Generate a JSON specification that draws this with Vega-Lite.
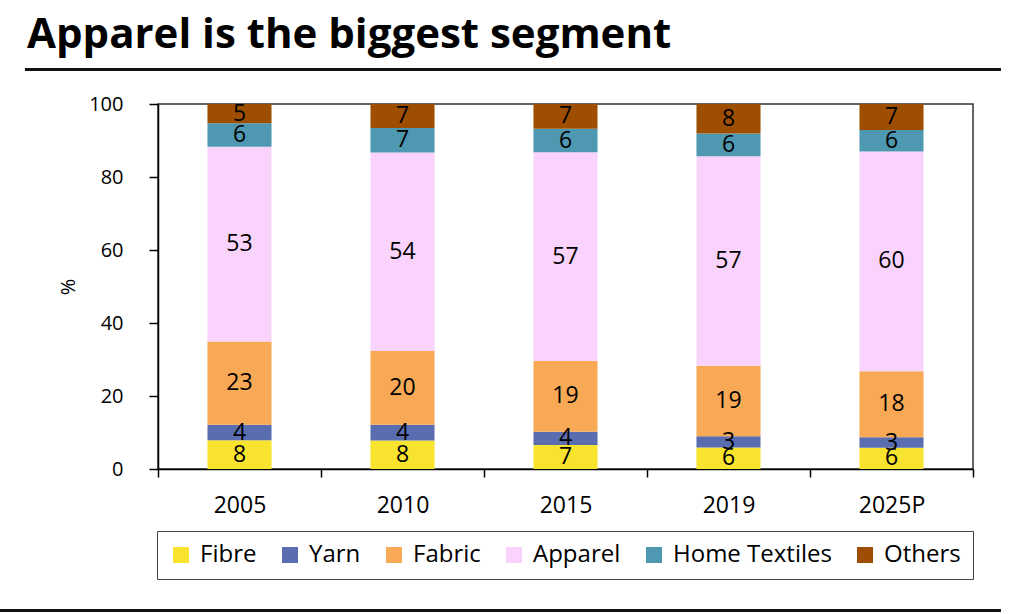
{
  "$schema": "https://vega.github.io/schema/vega-lite/v6.json",
  "padding": {"left": 0, "top": 14, "right": 0, "bottom": 0},
  "background": "white",
  "config": {"font": "Open Sans", "view": {"stroke": null}},
  "title": {"text": "Apparel is the biggest segment", "anchor": "start", "frame": "group", "fontSize": 42, "fontWeight": "bold", "color": "#000000", "dx": 27, "offset": 11, "font": "Open Sans"},
  "resolve": {"scale": {"color": "independent"}, "legend": {"color": "independent"}},
  "spacing": 28,
  "vconcat": [
    {
      "spacing": 22,
      "resolve": {"scale": {"color": "independent"}, "legend": {"color": "independent"}},
      "vconcat": [
        {
          "spacing": 0,
          "hconcat": [
            {"width": 25, "height": 3, "data": {"values": []}, "mark": "rule", "encoding": {}, "view": {"stroke": null}},
            {"width": 976, "height": 3, "data": {"values": []}, "mark": "rule", "encoding": {}, "view": {"stroke": null, "fill": "#111111"}}
          ]
        },
        {
          "spacing": 0,
          "resolve": {"scale": {"color": "independent"}, "legend": {"color": "independent"}},
          "hconcat": [
            {"width": 57, "height": 10, "data": {"values": []}, "mark": "rule", "encoding": {}, "view": {"stroke": null}},
            {
              "width": 815,
              "height": 365,
              "view": {"stroke": "#333333", "strokeWidth": 1.5},
              "data": {"values": [
                {"year": "2005", "segment": "Fibre", "value": 7.9},
                {"year": "2005", "segment": "Yarn", "value": 4.2},
                {"year": "2005", "segment": "Fabric", "value": 22.8},
                {"year": "2005", "segment": "Apparel", "value": 53.4},
                {"year": "2005", "segment": "Home Textiles", "value": 6.4},
                {"year": "2005", "segment": "Others", "value": 5.3},
                {"year": "2010", "segment": "Fibre", "value": 7.8},
                {"year": "2010", "segment": "Yarn", "value": 4.3},
                {"year": "2010", "segment": "Fabric", "value": 20.2},
                {"year": "2010", "segment": "Apparel", "value": 54.4},
                {"year": "2010", "segment": "Home Textiles", "value": 6.7},
                {"year": "2010", "segment": "Others", "value": 6.6},
                {"year": "2015", "segment": "Fibre", "value": 6.6},
                {"year": "2015", "segment": "Yarn", "value": 3.6},
                {"year": "2015", "segment": "Fabric", "value": 19.4},
                {"year": "2015", "segment": "Apparel", "value": 57.2},
                {"year": "2015", "segment": "Home Textiles", "value": 6.4},
                {"year": "2015", "segment": "Others", "value": 6.8},
                {"year": "2019", "segment": "Fibre", "value": 5.9},
                {"year": "2019", "segment": "Yarn", "value": 3.1},
                {"year": "2019", "segment": "Fabric", "value": 19.3},
                {"year": "2019", "segment": "Apparel", "value": 57.4},
                {"year": "2019", "segment": "Home Textiles", "value": 6.2},
                {"year": "2019", "segment": "Others", "value": 8.1},
                {"year": "2025P", "segment": "Fibre", "value": 5.8},
                {"year": "2025P", "segment": "Yarn", "value": 2.9},
                {"year": "2025P", "segment": "Fabric", "value": 18.1},
                {"year": "2025P", "segment": "Apparel", "value": 60.2},
                {"year": "2025P", "segment": "Home Textiles", "value": 5.9},
                {"year": "2025P", "segment": "Others", "value": 7.1}
              ]},
              "transform": [
                {"calculate": "indexof(['Fibre','Yarn','Fabric','Apparel','Home Textiles','Others'], datum.segment)", "as": "order"},
                {"stack": "value", "groupby": ["year"], "sort": [{"field": "order", "order": "ascending"}], "as": ["y0", "y1"]},
                {"calculate": "(datum.y0 + datum.y1) / 2", "as": "ymid"}
              ],
              "encoding": {
                "x": {
                  "field": "year", "type": "nominal",
                  "sort": ["2005", "2010", "2015", "2019", "2025P"],
                  "scale": {"paddingInner": 0, "paddingOuter": 0},
                  "axis": {"title": null, "tickBand": "extent", "labelAngle": 0, "labelFontSize": 23, "labelColor": "#000000", "tickColor": "#000000", "domainColor": "#000000", "domainWidth": 1.5, "tickWidth": 1.5, "tickSize": 8, "labelPadding": 17, "grid": false}
                }
              },
              "layer": [
                {
                  "mark": {"type": "bar", "width": {"band": 0.393}},
                  "encoding": {
                    "y": {"field": "y1", "type": "quantitative", "scale": {"domain": [0, 100], "nice": false},
                      "axis": {"title": "%", "titleFontSize": 20, "titleFontWeight": "normal", "titleColor": "#000000", "titlePadding": 10, "values": [0, 20, 40, 60, 80, 100], "labelFontSize": 20, "labelColor": "#000000", "tickSize": 9, "tickWidth": 1.5, "labelPadding": 26, "grid": false, "domainColor": "#000000", "tickColor": "#000000", "domainWidth": 1.5}},
                    "y2": {"field": "y0"},
                    "color": {
                      "field": "segment", "type": "nominal",
                      "scale": {"domain": ["Fibre", "Yarn", "Fabric", "Apparel", "Home Textiles", "Others"], "range": ["#F8E32F", "#5B6DB1", "#F7A955", "#F9D3FB", "#4F98B1", "#9E4E00"]},
                      "legend": {"title": null, "orient": "none", "legendX": -1, "legendY": 427, "direction": "horizontal", "symbolType": "square", "symbolSize": 256, "symbolStrokeWidth": 0, "labelFontSize": 24, "labelColor": "#000000", "labelOffset": 7, "columnPadding": 21, "padding": 12, "strokeColor": "#444444", "fillColor": "#ffffff", "labelLimit": 300}
                    }
                  }
                },
                {
                  "mark": {"type": "text", "fontSize": 23, "color": "#000000", "baseline": "middle", "align": "center"},
                  "encoding": {
                    "y": {"field": "ymid", "type": "quantitative"},
                    "text": {"field": "value", "type": "quantitative", "format": ".0f"}
                  }
                }
              ]
            }
          ]
        }
      ]
    },
    {"width": 1001, "height": 3, "data": {"values": []}, "mark": "rule", "encoding": {}, "view": {"stroke": null, "fill": "#111111"}}
  ]
}
